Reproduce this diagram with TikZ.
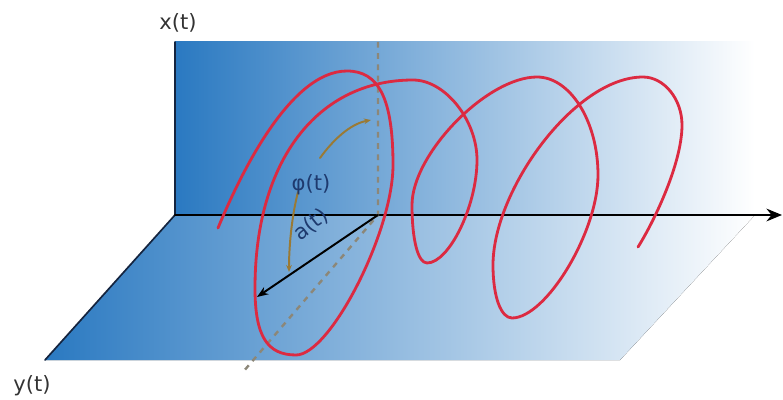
\documentclass[tikz,border=0pt]{standalone}
\usepackage{fontspec}
\setmainfont{DejaVu Sans}
\usetikzlibrary{arrows.meta}
\definecolor{planeblue}{HTML}{2A79C1}
\definecolor{helixred}{HTML}{DC2A41}
\definecolor{anglebrown}{HTML}{9A7A35}
\definecolor{labelnavy}{HTML}{1E3A6E}
\definecolor{edgenavy}{HTML}{14243F}
\definecolor{guidegray}{HTML}{8C8778}
\tikzset{
  every picture/.style={line join=round, line cap=round, >=Stealth},
  axisline/.style={line width=1.8pt, draw=black},
  edgeline/.style={line width=1.2pt, draw=edgenavy},
  helix/.style={line width=2pt, draw=helixred},
  guide/.style={line width=1.7pt, draw=guidegray, line cap=butt, dash pattern=on 4pt off 4pt},
  anglearc/.style={line width=1.4pt, draw=anglebrown},
  axislabel/.style={font=\fontsize{15}{17}\selectfont, text=black!80},
  curvelabel/.style={font=\fontsize{15}{17}\selectfont, text=labelnavy},
}

\begin{document}
\begin{tikzpicture}[x=0.025cm, y=-0.025cm]
\useasboundingbox (0,0) rectangle (783,400);
% corners of the planes
\coordinate (orig) at (175,215);
\coordinate (xtop) at (175,42);
\coordinate (ybot) at (45,360);
\coordinate (tend) at (782,215);
\coordinate (O) at (378,215);
\coordinate (Otop) at (378,42);
\coordinate (Obot) at (243,372);
\coordinate (aend) at (257,297);
% planes
\fill[left color=planeblue, right color=white] (xtop) rectangle (755,215);
\fill[left color=planeblue, right color=white] (orig) -- (755,215) -- (620,360) -- (ybot) -- cycle;
\draw[edgeline] (xtop) -- (orig) -- (ybot);
% axes and guides
\draw[axisline, -{Stealth[length=11pt, width=9pt]}] (orig) -- (tend);
\draw[guide] (Otop) -- (O) -- (Obot);
% helix, one quarter turn per segment
\draw[helix] (218,228) .. controls (240,175) and (290,71) .. (347,71)
  .. controls (379,71) and (393,99) .. (393,165)
  .. controls (393,232) and (330,355) .. (296,355)
  .. controls (267,355) and (255,336) .. (255,288)
  .. controls (255,160) and (318,80) .. (413,80)
  .. controls (445,80) and (477,120) .. (477,160)
  .. controls (477,206) and (449,263) .. (427,263)
  .. controls (418,263) and (412,240) .. (412,205)
  .. controls (412,154) and (487,77) .. (537,77)
  .. controls (570,77) and (598,121) .. (598,175)
  .. controls (598,232) and (546,318) .. (512,318)
  .. controls (501,318) and (493,297) .. (493,265)
  .. controls (493,190) and (575,77) .. (643,77)
  .. controls (664,77) and (682,99) .. (682,125)
  .. controls (682,165) and (652,225) .. (638,247);
% radius and angle
\draw[line width=1.4pt, -{Stealth[length=8pt, width=6pt]}] (O) -- (aend);
\draw[anglearc, {Stealth[length=5pt, width=4pt]}-] (371,120) .. controls (350,124) and (333,140) .. (320,158);
\draw[anglearc, -{Stealth[length=5pt, width=4pt]}] (298,192) .. controls (292,215) and (289,245) .. (289,272);
% labels
\node[axislabel] (xlab) at (178,23) {x(t)};
\node[axislabel] (ylab) at (32,386) {y(t)};
\node[curvelabel] (philab) at (311,185) {φ(t)};
\node[curvelabel, rotate=38] (alab) at (311,225) {a(t)};
\end{tikzpicture}
\end{document}
